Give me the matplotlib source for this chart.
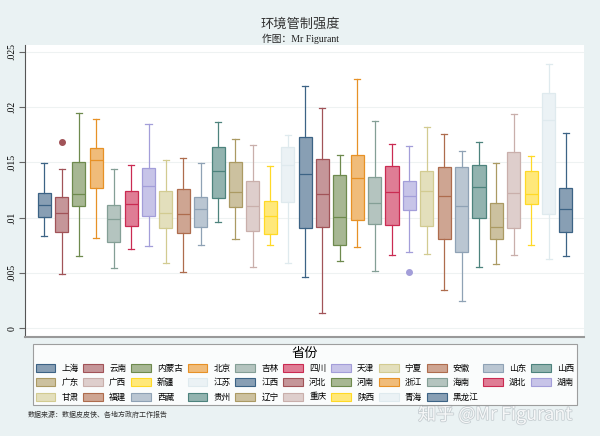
import matplotlib
matplotlib.use("Agg")
import matplotlib.pyplot as plt
import matplotlib.patheffects as pe
from matplotlib.patches import Patch
import numpy as np

plt.rcParams['font.family'] = ['Noto Sans CJK SC', 'DejaVu Sans']

# provinces in plotting order
provinces = ["上海", "云南", "内蒙古", "北京", "吉林", "四川", "天津", "宁夏", "安徽", "山东", "山西",
             "广东", "广西", "新疆", "江苏", "江西", "河北", "河南", "浙江", "海南", "湖北", "湖南",
             "甘肃", "福建", "西藏", "贵州", "辽宁", "重庆", "陕西", "青海", "黑龙江"]

# box statistics
whislo = [0.00833, 0.00491, 0.00655, 0.00815, 0.00548, 0.00718, 0.00742, 0.00591, 0.00512, 0.00755, 0.00958,
          0.00803, 0.00552, 0.00748, 0.00591, 0.00461, 0.00136, 0.00609, 0.00733, 0.00518, 0.00664, 0.00691,
          0.00667, 0.00345, 0.00245, 0.00552, 0.00579, 0.00664, 0.00748, 0.00624, 0.00652]
q1 = [0.01009, 0.00870, 0.01106, 0.01264, 0.00782, 0.00921, 0.01012, 0.00909, 0.00860, 0.00918, 0.01176,
      0.01091, 0.00882, 0.00855, 0.01136, 0.00903, 0.00915, 0.00755, 0.00982, 0.00942, 0.00936, 0.01067,
      0.00927, 0.00809, 0.00691, 0.00997, 0.00803, 0.00903, 0.01124, 0.01030, 0.00873]
med = [0.01109, 0.01045, 0.01209, 0.01521, 0.00991, 0.01118, 0.01282, 0.01042, 0.01033, 0.01073, 0.01421,
       0.01233, 0.01106, 0.01018, 0.01479, 0.01397, 0.01209, 0.01003, 0.01358, 0.01127, 0.01233, 0.01191,
       0.01236, 0.01197, 0.01106, 0.01279, 0.00915, 0.01218, 0.01215, 0.01885, 0.01073]
q3 = [0.01218, 0.01182, 0.01500, 0.01627, 0.01115, 0.01239, 0.01445, 0.01242, 0.01258, 0.01182, 0.01633,
      0.01500, 0.01330, 0.01152, 0.01639, 0.01727, 0.01530, 0.01382, 0.01561, 0.01364, 0.01470, 0.01327,
      0.01418, 0.01455, 0.01455, 0.01473, 0.01130, 0.01591, 0.01418, 0.02124, 0.01267]
whishi = [0.01497, 0.01439, 0.01948, 0.01891, 0.01436, 0.01479, 0.01842, 0.01524, 0.01536, 0.01497, 0.01864,
          0.01709, 0.01658, 0.01467, 0.01748, 0.02188, 0.01994, 0.01561, 0.02252, 0.01870, 0.01664, 0.01645,
          0.01818, 0.01758, 0.01600, 0.01685, 0.01497, 0.01933, 0.01558, 0.02391, 0.01767]
outliers = {"云南": [0.01679], "湖南": [0.00509]}

# Stata s2color palette
palette = [(26, 71, 111), (144, 53, 59), (85, 117, 47), (227, 126, 0), (110, 142, 132),
           (193, 5, 52), (147, 141, 210), (202, 194, 126), (160, 82, 45), (123, 146, 168),
           (45, 109, 102), (156, 136, 71), (191, 161, 156), (255, 210, 0), (217, 230, 235)]


def edge_col(i, a=0.85):
    r, g, b = palette[i % len(palette)]
    r, g, b = r / 255, g / 255, b / 255
    return (1 - a * (1 - r), 1 - a * (1 - g), 1 - a * (1 - b))


def fill_col(i, a=0.52):
    r, g, b = palette[i % len(palette)]
    r, g, b = r / 255, g / 255, b / 255
    return (1 - a * (1 - r), 1 - a * (1 - g), 1 - a * (1 - b))


bg = "#eaf2f3"
fig = plt.figure(figsize=(6.0, 4.36), dpi=100, facecolor=bg)
ax = fig.add_axes([0.0417, 0.227, 0.932, 0.670])
ax.set_facecolor("white")

stats = []
for i, p in enumerate(provinces):
    stats.append(dict(whislo=whislo[i], q1=q1[i], med=med[i], q3=q3[i],
                      whishi=whishi[i], fliers=outliers.get(p, []), label=p))

positions = np.arange(1, len(provinces) + 1)
for i, s in enumerate(stats):
    ec = edge_col(i)
    ax.bxp([s], positions=[positions[i]], widths=0.75, patch_artist=True,
           showfliers=True,
           boxprops=dict(facecolor=fill_col(i), edgecolor=ec, linewidth=0.9),
           medianprops=dict(color=ec, linewidth=0.9),
           whiskerprops=dict(color=ec, linewidth=0.9),
           capprops=dict(color=ec, linewidth=0.9),
           flierprops=dict(marker='o', markersize=4, markerfacecolor=ec, markeredgecolor=ec),
           capwidths=0.35, zorder=3)

ax.set_xlim(-0.1, 32.05)
ax.set_ylim(-0.0008, 0.0256)
yt = [0, 0.005, 0.01, 0.015, 0.02, 0.025]
ax.set_yticks(yt)
ax.set_yticklabels(["0", ".005", ".01", ".015", ".02", ".025"], rotation=90, va="center",
                   fontsize=7, family="Liberation Serif")
ax.tick_params(axis='y', length=4, width=0.8, color="#666666", pad=2)
ax.set_xticks([])
ax.grid(axis='y', color="#eef2f2", linewidth=0.8, zorder=0)
for side in ["top", "right"]:
    ax.spines[side].set_visible(False)
ax.spines["left"].set_color("#555555")
ax.spines["left"].set_linewidth(0.8)
ax.spines["bottom"].set_color("#999999")
ax.spines["bottom"].set_linewidth(1.5)

fig.text(0.5, 0.945, "环境管制强度", ha="center", va="center", fontsize=9.5, color="#333333")
fig.text(0.5, 0.912, "作图：Mr Figurant", ha="center", va="center", fontsize=7,
         family=["Liberation Serif", "Noto Sans CJK SC"], color="#222222")

# legend, filled row by row
handles = [Patch(facecolor=fill_col(i), edgecolor=edge_col(i), linewidth=0.8) for i in range(len(provinces))]
ncol = 11
order = []
for j in range(ncol):
    for r in range(3):
        k = j + r * ncol
        if k < len(provinces):
            order.append(k)
leg = fig.legend([handles[k] for k in order], [provinces[k] for k in order],
                 ncols=ncol, loc="upper center", bbox_to_anchor=(0.508, 0.211),
                 fontsize=6.2, title="省份", title_fontsize=9.5,
                 frameon=True, fancybox=False, edgecolor="#888888",
                 handlelength=2.3, handleheight=1.05, handletextpad=0.7, columnspacing=0.55,
                 labelspacing=0.6, borderpad=0.35, borderaxespad=0)
leg.get_frame().set_linewidth(0.8)
leg._legend_box.sep = 3

fig.text(0.047, 0.048, "数据来源：数据皮皮侠、各地方政府工作报告", fontsize=5, color="#333333",
         va="center")

fig.text(0.825, 0.05, "知乎 @Mr Figurant", ha="center", va="center", fontsize=13,
         color="white", alpha=0.85,
         path_effects=[pe.withStroke(linewidth=1.2, foreground="#c0c8cc")])

fig.savefig("out.png", dpi=100, facecolor=bg)
